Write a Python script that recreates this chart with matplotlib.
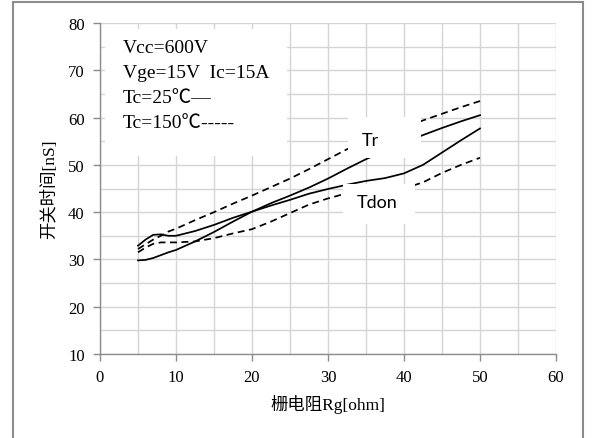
import matplotlib
matplotlib.use("Agg")
import matplotlib.pyplot as plt
from matplotlib.patches import Rectangle
from matplotlib.ticker import MultipleLocator

# gate resistance [ohm] and switching times [nS]
rg = [5, 6, 7, 8, 9, 10, 12.5, 15, 17.5, 20, 22.5, 25, 27.5, 30, 32.5, 35,
      37.5, 40, 42.5, 45, 47.5, 50]
tr_25 = [29.8, 29.9, 30.3, 30.9, 31.5, 32.0, 33.8, 35.8, 38.0, 40.1, 41.9, 43.5,
         45.2, 47.1, 49.2, 51.2, 52.9, 54.6, 56.3, 57.8, 59.2, 60.5]
tr_150 = [32.2, 33.2, 34.2, 35.0, 35.9, 36.5, 38.3, 40.0, 41.8, 43.5, 45.3, 47.1,
          49.1, 51.2, 53.3, 54.9, 56.4, 57.9, 59.4, 60.8, 62.2, 63.5]
tdon_25 = [32.9, 34.2, 35.2, 35.3, 35.0, 35.0, 36.0, 37.3, 38.8, 40.1, 41.4, 42.6,
           43.9, 44.9, 45.8, 46.6, 47.2, 48.2, 50.0, 52.6, 55.2, 57.7]
tdon_150 = [31.5, 32.5, 33.3, 33.6, 33.6, 33.6, 33.8, 34.5, 35.5, 36.4, 38.0, 39.8,
            41.6, 42.9, 44.0, 44.4, 44.6, 45.0, 46.3, 48.3, 50.0, 51.5]

info_lines = ["Vcc=600V", "Vge=15V  Ic=15A", "Tc=25\u2103\u2014", "Tc=150\u2103-----"]
serif = ["Liberation Serif", "Noto Sans CJK SC", "DejaVu Sans"]

fig = plt.figure(figsize=(5.92, 4.39), dpi=100)
W, H = 592.0, 439.0
ax = fig.add_axes([100 / W, (H - 355) / H, 456 / W, 331 / H])

# grey outer frame of the picture
fig.patches.append(Rectangle((13 / W, -0.02), 570 / W, (H - 3) / H + 0.02,
                             transform=fig.transFigure, fill=False,
                             edgecolor="#8c8c8c", linewidth=1.5))

lw = 1.25
ax.plot(rg, tr_25, color="black", lw=lw, zorder=3)
ax.plot(rg, tdon_25, color="black", lw=lw, zorder=3)
ax.plot(rg, tr_150, color="black", lw=lw, ls=(0, (4, 2.6)), zorder=3)
ax.plot(rg, tdon_150, color="black", lw=lw, ls=(0, (4, 2.6)), zorder=3)

ax.set_xlim(0, 60)
ax.set_ylim(10, 80)
ax.xaxis.set_major_locator(MultipleLocator(10))
ax.xaxis.set_minor_locator(MultipleLocator(5))
ax.yaxis.set_major_locator(MultipleLocator(10))
ax.yaxis.set_minor_locator(MultipleLocator(5))
ax.grid(True, which="both", color="#d4d4d4", lw=1.0, zorder=0)
ax.set_axisbelow(True)
ax.tick_params(which="minor", length=0)
ax.tick_params(which="major", length=5, width=1, color="#8c8c8c", labelsize=12,
               pad=6)
for lab in ax.get_xticklabels() + ax.get_yticklabels():
    lab.set_family(serif)
for s in ["top", "right"]:
    ax.spines[s].set_visible(False)
for s in ["left", "bottom"]:
    ax.spines[s].set_color("#8c8c8c")
    ax.spines[s].set_linewidth(1.0)

ax.set_xlabel("栅电阻Rg[ohm]", family=serif, fontsize=12.5, labelpad=6)
ax.set_ylabel("开关时间[nS]", family=serif, fontsize=12.5, labelpad=7)

# white label boxes that cut through the curves
ax.add_patch(Rectangle((0.66, 51.9), 23.9, 26.8, facecolor="white",
                       edgecolor="none", zorder=4))
ax.add_patch(Rectangle((32.6, 51.4), 9.6, 8.7, facecolor="white",
                       edgecolor="none", zorder=4))
ax.add_patch(Rectangle((32.0, 37.5), 9.5, 8.5, facecolor="white",
                       edgecolor="none", zorder=4))

for i, t in enumerate(info_lines):
    ax.text(3.0, 74.8 - i * 5.25, t, family=serif, fontsize=14, va="center",
            ha="left", zorder=5)

ax.text(35.6, 55.3, "Tr", family=["Lato", "DejaVu Sans"], fontsize=13,
        ha="center", va="center", zorder=5)
ax.text(36.5, 42.1, "Tdon", family=["Lato", "DejaVu Sans"], fontsize=13,
        ha="center", va="center", zorder=5)

fig.savefig("out.png", dpi=100)
